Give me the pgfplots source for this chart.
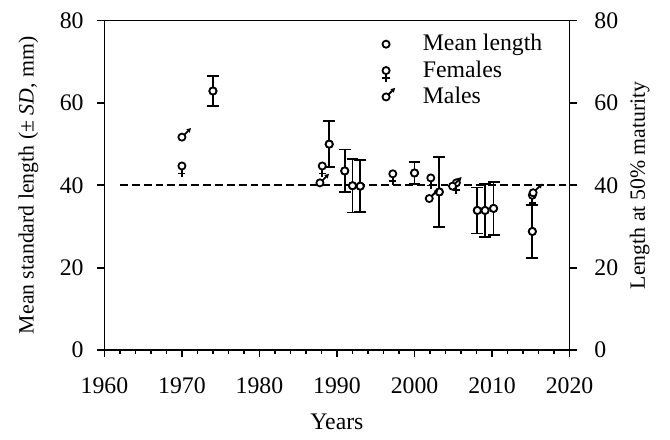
\documentclass[border=0pt]{standalone}
\usepackage{fontspec}
\setmainfont{Liberation Serif}
\usepackage{pgfplots}
\pgfplotsset{compat=1.18}

% symbols: open circle, Venus sign, Mars sign
\pgfdeclareplotmark{meanc}{%
  \pgfpathcircle{\pgfpointorigin}{\pgfplotmarksize}\pgfusepathqfillstroke}
\pgfdeclareplotmark{female}{%
  \pgfpathmoveto{\pgfpoint{0pt}{-\pgfplotmarksize}}%
  \pgfpathlineto{\pgfpoint{0pt}{-5.6pt}}%
  \pgfpathmoveto{\pgfpoint{-1.8pt}{-3.8pt}}%
  \pgfpathlineto{\pgfpoint{1.8pt}{-3.8pt}}%
  \pgfusepathqstroke
  \pgfpathcircle{\pgfpointorigin}{\pgfplotmarksize}\pgfusepathqfillstroke}
\pgfdeclareplotmark{male}{%
  \pgfpathmoveto{\pgfpoint{1.25pt}{1.25pt}}%
  \pgfpathlineto{\pgfpoint{3.1pt}{3.1pt}}%
  \pgfusepathqstroke
  \pgfpathcircle{\pgfpointorigin}{\pgfplotmarksize}\pgfusepathqfillstroke
  \begin{pgfscope}
  \pgfsetfillcolor{black}%
  \pgfpathmoveto{\pgfpoint{4.6pt}{4.6pt}}%
  \pgfpathlineto{\pgfpoint{2.2pt}{3.9pt}}%
  \pgfpathlineto{\pgfpoint{3.9pt}{2.2pt}}%
  \pgfpathclose
  \pgfusepathqfill
  \end{pgfscope}}

\begin{document}
\begin{tikzpicture}[font=\fontsize{12}{14}\selectfont]
\begin{axis}[
  scale only axis,
  width=235pt, height=166.5pt,
  xmin=1960, xmax=2020, ymin=0, ymax=80,
  xtick={1960,1970,...,2020},
  ytick={0,20,...,80},
  minor x tick num=4,
  tick align=outside,
  xtick pos=bottom, ytick pos=left,
  major tick length=3.5pt, minor tick length=2pt,
  axis line style={line width=0.9pt},
  tick style={black, line width=0.9pt},
  /pgf/number format/assume math mode=true,
  /pgf/number format/1000 sep={},
  xticklabel style={yshift=-7pt},
  yticklabel style={xshift=-3.5pt},
  xlabel={Years},
  xlabel style={yshift=-3pt},
  ylabel={Mean standard length (±~\textit{SD}, mm)},
  ylabel style={font=\fontsize{11}{13}\selectfont, yshift=4pt},
  legend style={draw=none, fill=none, inner sep=0pt,
    at={(0.597,0.965)}, anchor=north west,
    nodes={inner sep=1pt}, row sep=1.5pt,
    /tikz/every odd column/.append style={column sep=13pt}},
  legend cell align=left,
  mark size=1.8pt,
  every axis plot/.append style={line width=0.9pt, black},
]
\addplot[forget plot, dash pattern=on 4pt off 2pt] coordinates {(1962,40) (2019.5,40)};

% error bars first, so that the circles sit on top of them
\addplot[forget plot, only marks, mark=none,
  error bars/.cd, y dir=both, y explicit,
  error mark options={rotate=90, mark size=3pt, line width=0.9pt, black},
  error bar style={line width=0.9pt, black}]
  coordinates {
    (1974,62.9) +- (0,3.6)
    (1989,50.0) +- (0,5.6)
    (1991,43.5) +- (0,5.2)
    (1992,39.9) +- (0,6.5)
    (1993,39.8) +- (0,6.3)
    (2000,43.0) +- (0,2.7)
    (2003.2,38.4) +- (0,8.5)
    (2008.1,33.9) +- (0,5.6)
    (2009.1,33.9) +- (0,6.5)
    (2010.2,34.4) +- (0,6.4)
    (2015.2,28.8) +- (0,6.5)
  };

\addplot[only marks, mark=meanc, mark options={fill=white, solid}]
  coordinates {
    (1974,62.9) (1989,50.0) (1991,43.5) (1992,39.9) (1993,39.8)
    (2000,43.0) (2003.2,38.4) (2008.1,33.9) (2009.1,33.9)
    (2010.2,34.4) (2015.2,28.8)
  };
\addlegendentry{Mean length}

\addplot[only marks, mark=female, mark options={fill=white, solid}]
  coordinates {
    (1970,44.7) (1988.1,44.7) (1997.2,42.8) (2002.1,41.8)
    (2005.4,40.6) (2015.2,37.6)
  };
\addlegendentry{Females}

\addplot[only marks, mark=male, mark options={fill=white, solid}]
  coordinates {
    (1970,51.7) (1987.8,40.6) (2001.9,36.8) (2004.9,39.8) (2015.3,38.2)
  };
\addlegendentry{Males}
\end{axis}

\begin{axis}[
  scale only axis,
  width=235pt, height=166.5pt,
  xmin=1960, xmax=2020, ymin=0, ymax=80,
  axis x line=none,
  axis y line*=right,
  ytick={0,20,...,80},
  tick align=outside,
  major tick length=3.5pt,
  axis line style={line width=0.9pt},
  tick style={black, line width=0.9pt},
  /pgf/number format/assume math mode=true,
  yticklabel style={xshift=5.5pt},
  ylabel={Length at 50\% maturity},
  ylabel style={font=\fontsize{11}{13}\selectfont, yshift=1pt},
]
\end{axis}
\path (current bounding box.north east) ++(7pt,3pt);
\path (current bounding box.south west) ++(-6pt,-2pt);
\end{tikzpicture}
\end{document}
